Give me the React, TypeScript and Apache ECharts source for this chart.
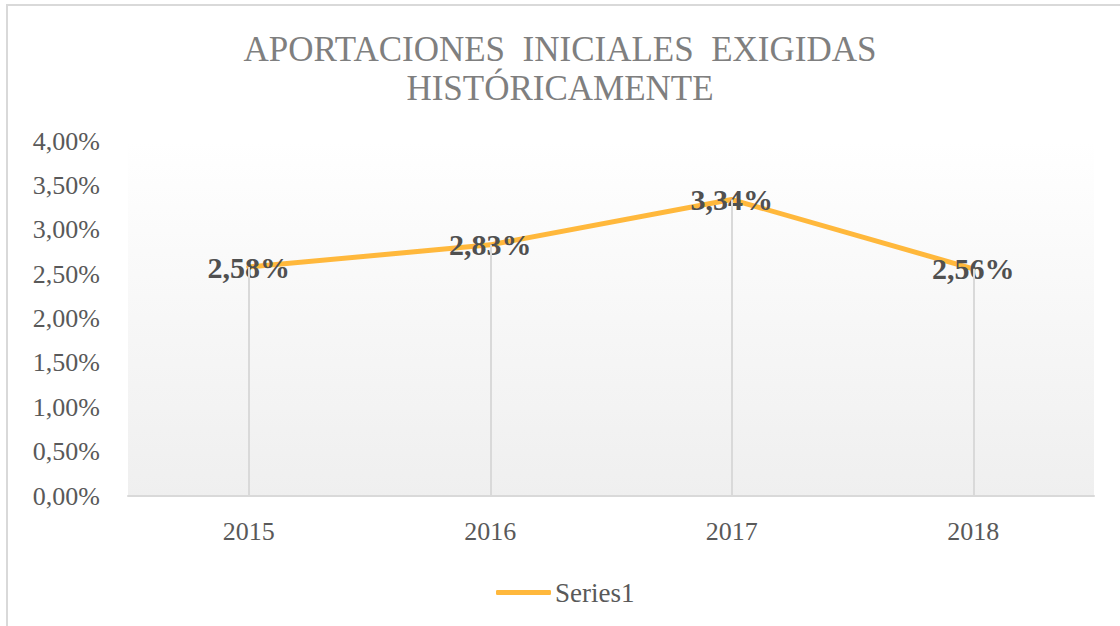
import React, { useEffect, useRef } from "react";
import * as echarts from "echarts";

const categories = ["2015", "2016", "2017", "2018"];
const values = [2.58, 2.83, 3.34, 2.56];
const yTicks = [0, 0.5, 1, 1.5, 2, 2.5, 3, 3.5, 4];
const seriesName = "Series1";
const titleText = "APORTACIONES  INICIALES  EXIGIDAS\nHISTÓRICAMENTE";

const fmt = (v: number) => v.toFixed(2).replace(".", ",") + "%";
const FONT = "'Liberation Serif', 'Times New Roman', serif";

export default function App() {
  const ref = useRef<HTMLDivElement>(null);
  useEffect(() => {
    if (!ref.current) return;
    const chart = echarts.init(ref.current, null, { renderer: "svg" });
    chart.setOption({
      animation: false,
      backgroundColor: "#ffffff",
      textStyle: { fontFamily: FONT },
      title: {
        text: titleText,
        left: "center",
        top: 25,
        textStyle: {
          fontFamily: FONT,
          fontSize: 35,
          fontWeight: "normal",
          color: "#7f7f7f",
          lineHeight: 39,
        },
      },
      graphic: [
        {
          type: "rect",
          shape: { x: 7, y: 5, width: 1300, height: 800 },
          style: { fill: "none", stroke: "#d9d9d9", lineWidth: 2 },
          silent: true,
          z: -1,
        },
      ],
      legend: {
        data: [seriesName],
        left: 491,
        top: 574,
        icon: "roundRect",
        itemWidth: 55,
        itemHeight: 5,
        itemGap: 4,
        textStyle: { fontFamily: FONT, fontSize: 27, color: "#595959", padding: [0, 0, 0, -1] },
      },
      grid: {
        left: 128,
        right: 26,
        top: 141,
        bottom: 130,
        show: true,
        borderWidth: 0,
        backgroundColor: new echarts.graphic.LinearGradient(0, 0, 0, 1, [
          { offset: 0, color: "#ffffff" },
          { offset: 1, color: "#efefef" },
        ]),
      },
      xAxis: {
        type: "category",
        data: categories,
        boundaryGap: true,
        axisLine: { lineStyle: { color: "#d9d9d9", width: 2 } },
        axisTick: { show: false },
        axisLabel: { fontFamily: FONT, fontSize: 26, color: "#595959", margin: 22 },
        splitLine: { show: false },
      },
      yAxis: {
        type: "value",
        min: yTicks[0],
        max: yTicks[yTicks.length - 1],
        interval: 0.5,
        axisLine: { show: false },
        axisTick: { show: false },
        splitLine: { show: false },
        axisLabel: {
          fontFamily: FONT,
          fontSize: 26,
          color: "#595959",
          margin: 28,
          formatter: (v: number) => fmt(v),
        },
      },
      series: [
        {
          name: seriesName,
          type: "line",
          data: values,
          symbol: "circle",
          symbolSize: 4,
          showSymbol: true,
          lineStyle: { color: "#ffb83c", width: 5, cap: "round", join: "round" },
          itemStyle: { color: "#ffb83c" },
          label: {
            show: true,
            position: "inside",
            formatter: (p: any) => fmt(p.value),
            fontFamily: FONT,
            fontSize: 30,
            fontWeight: "bold",
            color: "#505050",
          },
          markLine: {
            silent: true,
            symbol: "none",
            label: { show: false },
            lineStyle: { color: "#d9d9d9", width: 2, type: "solid" },
            data: values.map((v, i) => [
              { coord: [categories[i], 0] },
              { coord: [categories[i], v] },
            ]),
          },
        },
      ],
    });
    return () => chart.dispose();
  }, []);
  return (
    <div
      ref={ref}
      style={{ position: "absolute", left: 0, top: 0, width: 1120, height: 626 }}
    />
  );
}
